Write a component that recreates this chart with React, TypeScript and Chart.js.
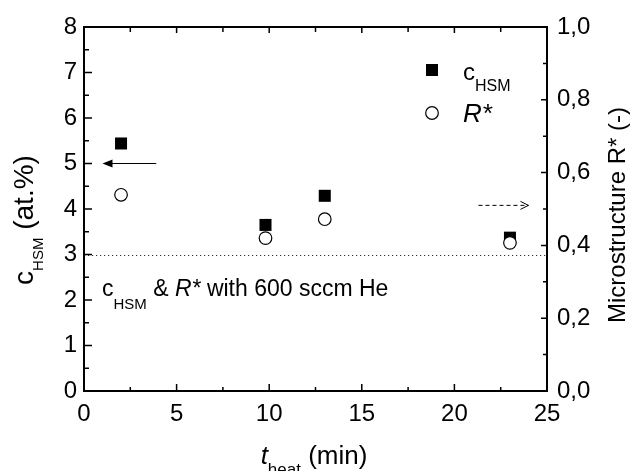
import React, { useEffect, useRef } from "react";
import { Chart, registerables } from "chart.js";

Chart.register(...registerables);

// ---- data ----
const tHeat = [2, 9.8, 13, 23];
const cHSM = [5.44, 3.65, 4.29, 3.37];
const rStar = [0.539, 0.42, 0.472, 0.407];
const xTicks = [0, 5, 10, 15, 20, 25];
const cTicks = [0, 1, 2, 3, 4, 5, 6, 7, 8];
const rTicks = [0, 0.2, 0.4, 0.6, 0.8, 1.0];
const referenceLineC = 3;
const solidArrow = { x0: 3.9, x1: 1.0, y: 5 };
const dashedArrow = { x0: 21.3, x1: 24.0, y: 0.51 };

const FONT = "'Liberation Sans', Arial, Helvetica, sans-serif";

type Seg = { t: string; italic?: boolean; sub?: boolean };

function drawRich(
  ctx: CanvasRenderingContext2D,
  segs: Seg[],
  x: number,
  y: number,
  size: number,
  subSize: number,
  subShift: number,
  align: "left" | "center",
  rotate = 0
) {
  const fontOf = (s: Seg) =>
    `${s.italic ? "italic " : ""}${s.sub ? subSize : size}px ${FONT}`;
  let total = 0;
  const widths = segs.map((s) => {
    ctx.font = fontOf(s);
    const w = ctx.measureText(s.t).width;
    total += w;
    return w;
  });
  ctx.save();
  ctx.translate(x, y);
  ctx.rotate(rotate);
  ctx.fillStyle = "#000";
  ctx.textBaseline = "alphabetic";
  ctx.textAlign = "left";
  let cx = align === "center" ? -total / 2 : 0;
  segs.forEach((s, i) => {
    ctx.font = fontOf(s);
    ctx.fillText(s.t, cx, s.sub ? subShift : 0);
    cx += widths[i];
  });
  ctx.restore();
}

const decorPlugin = {
  id: "decor",
  afterDraw(chart: any) {
    const ctx: CanvasRenderingContext2D = chart.ctx;
    const { left, right, top, bottom } = chart.chartArea;
    const xs = chart.scales.x;
    const ys = chart.scales.y;
    const y1 = chart.scales.y1;
    ctx.save();
    ctx.strokeStyle = "#000";
    ctx.fillStyle = "#000";

    // dotted reference line
    ctx.save();
    ctx.lineWidth = 1;
    ctx.setLineDash([1.2, 2.8]);
    ctx.strokeStyle = "#333";
    const yr = Math.round(ys.getPixelForValue(referenceLineC)) + 0.5;
    ctx.beginPath();
    ctx.moveTo(left, yr);
    ctx.lineTo(right, yr);
    ctx.stroke();
    ctx.restore();

    // tick marks (inward)
    ctx.lineWidth = 1.5;
    ctx.beginPath();
    const xMinor: number[] = [];
    for (let i = 0; i < xTicks.length - 1; i++) xMinor.push((xTicks[i] + xTicks[i + 1]) / 2);
    xTicks.forEach((v) => {
      const px = xs.getPixelForValue(v);
      ctx.moveTo(px, bottom);
      ctx.lineTo(px, bottom - 7);
      ctx.moveTo(px, top);
      ctx.lineTo(px, top + 6);
    });
    xMinor.forEach((v) => {
      const px = xs.getPixelForValue(v);
      ctx.moveTo(px, bottom);
      ctx.lineTo(px, bottom - 4);
      ctx.moveTo(px, top);
      ctx.lineTo(px, top + 5);
    });
    const cMinor: number[] = [];
    for (let i = 0; i < cTicks.length - 1; i++) cMinor.push((cTicks[i] + cTicks[i + 1]) / 2);
    cTicks.forEach((v) => {
      const py = ys.getPixelForValue(v);
      ctx.moveTo(left, py);
      ctx.lineTo(left + 8, py);
    });
    cMinor.forEach((v) => {
      const py = ys.getPixelForValue(v);
      ctx.moveTo(left, py);
      ctx.lineTo(left + 5, py);
    });
    const rMinor: number[] = [];
    for (let i = 0; i < rTicks.length - 1; i++) rMinor.push((rTicks[i] + rTicks[i + 1]) / 2);
    rTicks.forEach((v) => {
      const py = y1.getPixelForValue(v);
      ctx.moveTo(right, py);
      ctx.lineTo(right - 6, py);
    });
    rMinor.forEach((v) => {
      const py = y1.getPixelForValue(v);
      ctx.moveTo(right, py);
      ctx.lineTo(right - 4, py);
    });
    ctx.stroke();

    // frame
    ctx.lineWidth = 2;
    ctx.strokeRect(left, top, right - left, bottom - top);

    // solid arrow (pointing left to the c axis)
    {
      const ay = ys.getPixelForValue(solidArrow.y);
      const xa = xs.getPixelForValue(solidArrow.x0);
      const xb = xs.getPixelForValue(solidArrow.x1);
      ctx.lineWidth = 1.2;
      ctx.beginPath();
      ctx.moveTo(xa, ay);
      ctx.lineTo(xb + 8, ay);
      ctx.stroke();
      ctx.beginPath();
      ctx.moveTo(xb, ay);
      ctx.lineTo(xb + 10, ay - 4);
      ctx.lineTo(xb + 10, ay + 4);
      ctx.closePath();
      ctx.fill();
    }
    // dashed arrow (pointing right to the R* axis)
    {
      const ay = y1.getPixelForValue(dashedArrow.y);
      const xa = xs.getPixelForValue(dashedArrow.x0);
      const xb = xs.getPixelForValue(dashedArrow.x1);
      ctx.lineWidth = 1;
      ctx.save();
      ctx.setLineDash([4, 3]);
      ctx.beginPath();
      ctx.moveTo(xa, ay);
      ctx.lineTo(xb, ay);
      ctx.stroke();
      ctx.restore();
      ctx.beginPath();
      ctx.moveTo(xb - 8, ay - 4);
      ctx.lineTo(xb, ay);
      ctx.lineTo(xb - 8, ay + 4);
      ctx.stroke();
    }

    // legend
    {
      const lx = 432;
      ctx.fillStyle = "#000";
      ctx.fillRect(lx - 6, 70 - 6, 12, 12);
      ctx.beginPath();
      ctx.arc(lx, 113, 6.3, 0, Math.PI * 2);
      ctx.fillStyle = "#fff";
      ctx.fill();
      ctx.lineWidth = 1.2;
      ctx.strokeStyle = "#000";
      ctx.stroke();
      drawRich(ctx, [{ t: "c" }, { t: "HSM", sub: true }], 463, 80, 24, 16, 11, "left");
      drawRich(ctx, [{ t: "R*", italic: true }], 463, 122, 26, 16, 0, "left");
    }

    // annotation
    drawRich(
      ctx,
      [
        { t: "c" },
        { t: "HSM", sub: true },
        { t: " & " },
        { t: "R*", italic: true },
        { t: " with 600 sccm He" },
      ],
      102,
      296,
      23,
      15,
      13,
      "left"
    );

    // axis titles
    drawRich(
      ctx,
      [{ t: "t", italic: true }, { t: "heat", sub: true }, { t: " (min)" }],
      314,
      464,
      26,
      17,
      11,
      "center"
    );
    drawRich(
      ctx,
      [{ t: "c" }, { t: "HSM", sub: true }, { t: " (at.%)" }],
      33,
      220,
      28,
      15,
      10,
      "center",
      -Math.PI / 2
    );
    drawRich(ctx, [{ t: "Microstructure R* (-)" }], 625, 215, 24, 16, 0, "center", -Math.PI / 2);

    ctx.restore();
  },
};

export default function App() {
  const ref = useRef<HTMLCanvasElement | null>(null);
  useEffect(() => {
    if (!ref.current) return;
    const tickFont = { family: FONT, size: 24 };
    const chart = new Chart(ref.current, {
      type: "scatter",
      data: {
        datasets: [
          {
            label: "R*",
            data: tHeat.map((x, i) => ({ x, y: rStar[i] })),
            yAxisID: "y1",
            pointStyle: "circle",
            pointRadius: 6.3,
            pointBackgroundColor: "#fff",
            pointBorderColor: "#000",
            pointBorderWidth: 1.2,
            order: 1,
          },
          {
            label: "cHSM",
            data: tHeat.map((x, i) => ({ x, y: cHSM[i] })),
            yAxisID: "y",
            pointStyle: "rect",
            pointRadius: 8.5,
            pointBackgroundColor: "#000",
            pointBorderColor: "#000",
            pointBorderWidth: 0,
            order: 2,
          },
        ],
      },
      options: {
        animation: false,
        responsive: false,
        devicePixelRatio: 1,
        layout: { padding: { top: 27, left: 0, right: 0, bottom: 0 } },
        plugins: { legend: { display: false }, tooltip: { enabled: false } },
        scales: {
          x: {
            type: "linear",
            min: 0,
            max: 25,
            afterBuildTicks: (s: any) => {
              s.ticks = xTicks.map((v) => ({ value: v }));
            },
            ticks: { font: tickFont, color: "#000", padding: 9, maxRotation: 0, autoSkip: false },
            grid: { display: false, drawTicks: false },
            border: { display: false },
            afterFit: (s: any) => {
              s.height = 80;
            },
          },
          y: {
            type: "linear",
            position: "left",
            min: 0,
            max: 8,
            afterBuildTicks: (s: any) => {
              s.ticks = cTicks.map((v) => ({ value: v }));
            },
            ticks: { font: tickFont, color: "#000", padding: 7, autoSkip: false },
            grid: { display: false, drawTicks: false },
            border: { display: false },
            afterFit: (s: any) => {
              s.width = 84;
            },
          },
          y1: {
            type: "linear",
            position: "right",
            min: 0,
            max: 1,
            afterBuildTicks: (s: any) => {
              s.ticks = rTicks.map((v) => ({ value: v }));
            },
            ticks: {
              font: tickFont,
              color: "#000",
              padding: 10,
              autoSkip: false,
              callback: (v: any) => Number(v).toFixed(1).replace(".", ","),
            },
            grid: { display: false, drawTicks: false },
            border: { display: false },
            afterFit: (s: any) => {
              s.width = 88;
            },
          },
        },
      },
      plugins: [decorPlugin],
    } as any);
    return () => chart.destroy();
  }, []);
  return (
    <div style={{ position: "absolute", left: 0, top: 0, width: 635, height: 471, background: "#fff" }}>
      <canvas ref={ref} width={635} height={471} style={{ display: "block" }} />
    </div>
  );
}
